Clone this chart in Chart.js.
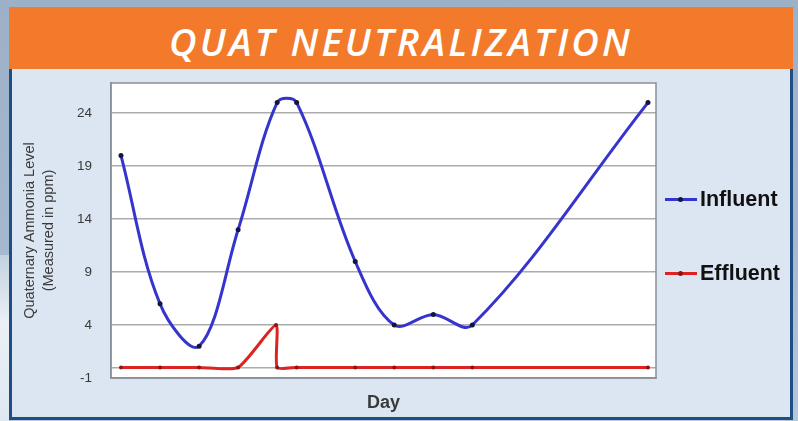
<!DOCTYPE html>
<html>
<head>
<meta charset="utf-8">
<script src="https://cdn.jsdelivr.net/npm/chart.js@4"></script>
<style>
  html, body { margin: 0; padding: 0; }
  body {
    width: 798px; height: 421px; position: relative; overflow: hidden;
    background: linear-gradient(180deg, #9cb1c8 0%, #a3b8ce 55%, #b4c8dc 100%);
    font-family: "Liberation Sans", Arial, sans-serif;
  }
  #leftGlow {
    position: absolute; left: 0; top: 255px; width: 9px; height: 166px;
    background: linear-gradient(180deg, #c3d1df 0%, #eaf0f6 40%, #dfe8f1 100%);
  }
  #banner {
    position: absolute; left: 9px; top: 7px; width: 784px; height: 62px;
    background: #f37a2b; color: #fff; text-align: center;
    font-family: "Open Sans", sans-serif; font-style: italic; font-weight: 600;
    font-size: 38px; line-height: 62px; box-sizing: border-box; padding-top: 3px;
    letter-spacing: 3.2px;
  }
  #panel {
    position: absolute; left: 9px; top: 69px; width: 784px; height: 351px;
    background: #dce6f2; box-sizing: border-box;
    border-left: 3px solid #1d4f84; border-right: 3px solid #1d4f84; border-bottom: 3px solid #1d4f84;
  }
  #chart { position: absolute; left: 0; top: 0; }
  .legend-item {
    position: absolute; left: 665px; height: 24px; display: flex; align-items: center;
    font-weight: bold; font-size: 21.5px; color: #111;
  }
  .legend-swatch { position: relative; width: 32px; height: 3px; margin-right: 3px; }
  .legend-swatch span {
    position: absolute; left: 13px; top: -1px; width: 5px; height: 5px; border-radius: 50%;
  }
</style>
</head>
<body>
<div id="leftGlow"></div>
<div id="banner">QUAT NEUTRALIZATION</div>
<div id="panel"></div>
<canvas id="chart" width="798" height="421"></canvas>
<div id="legend"></div>
<script>
// sampling days and readings (ppm)
const influentDays = [1, 2, 3, 4, 5, 5.5, 7, 8, 9, 10, 14.5];
const influentPpm = [20, 6, 2, 13, 25, 25, 10, 4, 5, 4, 25];
const effluentDays = [1, 2, 3, 4, 4.97, 5, 5.5, 7, 8, 9, 10, 14.5];
const effluentPpm = [0, 0, 0, 0, 4, 0, 0, 0, 0, 0, 0, 0];
const yTickValues = [-1, 4, 9, 14, 19, 24];
const seriesNames = ['Influent', 'Effluent'];
const lineColors = ['#3535cd', '#dd2222'];
const markerColors = ['#14163a', '#8a1616'];
const legendTops = [187, 261];

const toPoints = (xs, ys) => xs.map((x, i) => ({ x: x, y: ys[i] }));

// white plot area with a thin grey frame
const plotFrame = {
  id: 'plotFrame',
  beforeDraw(chart) {
    const { ctx, chartArea: a } = chart;
    ctx.save();
    ctx.fillStyle = '#ffffff';
    ctx.fillRect(a.left, a.top, a.right - a.left, a.bottom - a.top);
    ctx.restore();
  },
  afterDraw(chart) {
    const { ctx, chartArea: a } = chart;
    ctx.save();
    ctx.strokeStyle = '#8a8f96';
    ctx.lineWidth = 1.5;
    ctx.strokeRect(a.left, a.top, a.right - a.left, a.bottom - a.top);
    ctx.restore();
  }
};

const axisText = '#3a3a3a';

const chart = new Chart(document.getElementById('chart'), {
  type: 'line',
  data: {
    datasets: [
      {
        label: seriesNames[0],
        data: toPoints(influentDays, influentPpm),
        borderColor: lineColors[0],
        borderWidth: 3,
        tension: 0.35,
        pointRadius: 2.5,
        pointBorderWidth: 0,
        pointBackgroundColor: markerColors[0]
      },
      {
        label: seriesNames[1],
        data: toPoints(effluentDays, effluentPpm),
        borderColor: lineColors[1],
        borderWidth: 3,
        tension: 0.2,
        pointRadius: 2,
        pointBorderWidth: 0,
        pointBackgroundColor: markerColors[1]
      }
    ]
  },
  options: {
    responsive: false,
    animation: false,
    devicePixelRatio: 1,
    layout: { padding: { left: 10, right: 142, top: 83, bottom: 0 } },
    plugins: {
      legend: { display: false },
      tooltip: { enabled: false }
    },
    scales: {
      x: {
        type: 'linear',
        min: 0.744,
        max: 14.705,
        grid: { display: false, drawTicks: false },
        border: { color: '#8a8f96', width: 1.5 },
        ticks: { display: false },
        title: {
          display: true,
          text: 'Day',
          color: axisText,
          font: { family: 'Liberation Sans', size: 18, weight: 'bold' },
          padding: { top: 0, bottom: 7 }
        },
        afterFit(scale) { scale.height = 43; }
      },
      y: {
        min: -1,
        max: 26.85,
        afterBuildTicks(scale) {
          // gridlines at the labelled values plus the zero line
          scale.ticks = yTickValues.concat([0]).sort((a, b) => a - b).map(v => ({ value: v }));
        },
        ticks: {
          padding: 19,
          color: axisText,
          font: { family: 'Liberation Sans', size: 13.5 },
          callback: v => (yTickValues.includes(v) ? String(v) : '')
        },
        grid: { drawTicks: false, color: '#acacac', lineWidth: 1.5 },
        border: { color: '#8a8f96', width: 1.5 },
        title: {
          display: true,
          text: ['Quaternary Ammonia Level', '(Measured in ppm)'],
          color: axisText,
          font: { family: 'Liberation Sans', size: 14.5, lineHeight: 1.3 },
          padding: { top: 11, bottom: 0 }
        },
        afterFit(scale) { scale.width = 101; }
      }
    }
  },
  plugins: [plotFrame]
});

// legend on the right: line sample with a marker dot, then the series name
const legend = document.getElementById('legend');
chart.data.datasets.forEach((ds, i) => {
  const item = document.createElement('div');
  item.className = 'legend-item';
  item.style.top = legendTops[i] + 'px';
  const swatch = document.createElement('div');
  swatch.className = 'legend-swatch';
  swatch.style.background = lineColors[i];
  const dot = document.createElement('span');
  dot.style.background = markerColors[i];
  swatch.appendChild(dot);
  item.appendChild(swatch);
  item.appendChild(document.createTextNode(ds.label));
  legend.appendChild(item);
});
</script>
</body>
</html>
